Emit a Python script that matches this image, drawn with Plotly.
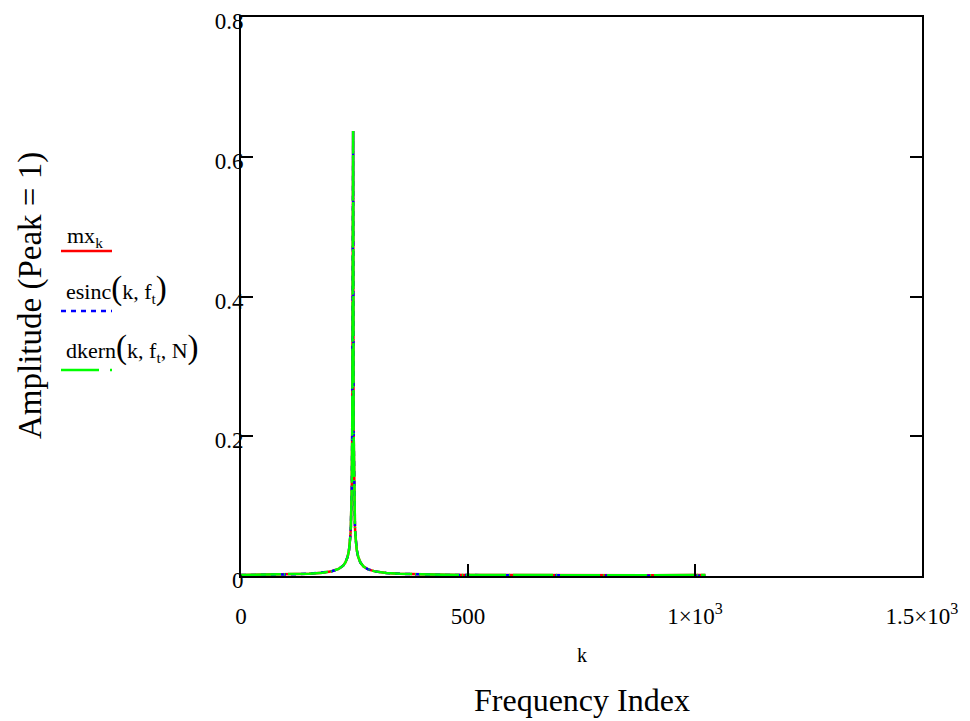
import plotly.graph_objects as go

# Frequency index samples (k) and amplitudes
k_vals = [0, 50, 100, 150, 180, 200, 215, 225, 230, 235, 238, 240, 241, 242, 243, 244, 245,
          246, 247, 248, 249, 250, 251, 252, 253, 255, 258, 263, 270, 280, 295, 320, 350,
          400, 450, 500, 600, 700, 800, 900, 1000, 1023]

mx_vals = [0.0014, 0.0017, 0.0022, 0.0033, 0.0048, 0.0069, 0.0101, 0.0148, 0.0193, 0.0277,
           0.0374, 0.049, 0.058, 0.071, 0.091, 0.127, 0.212, 0.637, 0.637, 0.212, 0.127,
           0.091, 0.071, 0.058, 0.049, 0.0374, 0.0277, 0.0193, 0.0135, 0.0095, 0.0066,
           0.0043, 0.0031, 0.0021, 0.0017, 0.0014, 0.0011, 0.0010, 0.0010, 0.0011, 0.0013,
           0.0014]

esinc_vals = [0.0013, 0.0016, 0.0022, 0.0033, 0.0048, 0.0068, 0.0101, 0.0148, 0.0193, 0.0277,
              0.0374, 0.049, 0.058, 0.071, 0.091, 0.127, 0.212, 0.637, 0.637, 0.212, 0.127,
              0.091, 0.071, 0.058, 0.049, 0.0374, 0.0277, 0.0193, 0.0135, 0.0095, 0.0066,
              0.0043, 0.0031, 0.0021, 0.0016, 0.0013, 0.0009, 0.0007, 0.0006, 0.0005, 0.0004,
              0.0004]

dkern_vals = [0.0014, 0.0017, 0.0022, 0.0033, 0.0048, 0.0069, 0.0101, 0.0148, 0.0193, 0.0277,
              0.0374, 0.049, 0.058, 0.071, 0.091, 0.127, 0.212, 0.637, 0.637, 0.212, 0.127,
              0.091, 0.071, 0.058, 0.049, 0.0374, 0.0277, 0.0193, 0.0135, 0.0095, 0.0066,
              0.0043, 0.0031, 0.0021, 0.0017, 0.0014, 0.0011, 0.0010, 0.0010, 0.0011, 0.0013,
              0.0014]

x_tickvals = [0, 500, 1000, 1500]
x_ticktext = ["0", "500", "1×10<sup>3</sup>", "1.5×10<sup>3</sup>"]
y_tickvals = [0, 0.2, 0.4, 0.6, 0.8]
y_ticktext = ["0", "0.2", "0.4", "0.6", "0.8"]

FONT = "Liberation Serif, Times New Roman, serif"
RED = "#ff0000"
BLUE = "#0000ff"
GREEN = "#00ff00"

fig = go.Figure()
fig.add_trace(go.Scatter(x=k_vals, y=mx_vals, mode="lines",
                         line=dict(color=RED, width=2.5), name="mx"))
fig.add_trace(go.Scatter(x=k_vals, y=esinc_vals, mode="lines",
                         line=dict(color=BLUE, width=2.5, dash="5px,5px"), name="esinc"))
fig.add_trace(go.Scatter(x=k_vals, y=dkern_vals, mode="lines",
                         line=dict(color=GREEN, width=2.5, dash="40px,3px,1px,3px"), name="dkern"))

fig.update_layout(
    width=962, height=713,
    margin=dict(l=233, r=48, t=9, b=145),
    paper_bgcolor="white", plot_bgcolor="white",
    showlegend=False,
    font=dict(family=FONT, color="black", size=22),
    xaxis=dict(range=[0, 1500], tickvals=x_tickvals, ticktext=x_ticktext,
               ticks="inside", ticklen=12, tickwidth=2, tickcolor="black",
               showline=True, linewidth=2, linecolor="black", mirror=True,
               showgrid=False, zeroline=False, ticklabelstandoff=18, automargin=False,
               ticklabeloverflow="allow",
               tickfont=dict(family=FONT, size=23, color="black")),
    yaxis=dict(range=[0, 0.8], tickvals=y_tickvals, ticktext=y_ticktext,
               ticks="inside", ticklen=12, tickwidth=2, tickcolor="black",
               showline=True, linewidth=2, linecolor="black", mirror="ticks",
               showgrid=False, zeroline=False, ticklabelstandoff=-9, automargin=False,
               ticklabeloverflow="allow", ticklabelshift=4,
               tickfont=dict(family=FONT, size=23, color="black")),
)

def px_x(px):
    return (px - 241) / 681.0

def px_y(py):
    return (576 - py) / 559.0

ann = []
ann.append(dict(text="Amplitude (Peak = 1)", x=px_x(30), y=px_y(295), xref="paper", yref="paper",
                textangle=-90, showarrow=False, xanchor="center", yanchor="middle",
                font=dict(family=FONT, size=33, color="black")))
ann.append(dict(text="k", x=0.5, y=px_y(655), xref="paper", yref="paper",
                showarrow=False, xanchor="center", yanchor="middle",
                font=dict(family=FONT, size=20, color="black")))
ann.append(dict(text="Frequency Index", x=0.5, y=px_y(700), xref="paper", yref="paper",
                showarrow=False, xanchor="center", yanchor="middle",
                font=dict(family=FONT, size=32, color="black")))
BIG = "<span style='font-size:33px'>(</span>"
BIGC = "<span style='font-size:33px'>)</span>"
ann.append(dict(text="mx<sub>k</sub>", x=px_x(65), y=px_y(237), xref="paper", yref="paper",
                showarrow=False, xanchor="left", yanchor="middle",
                font=dict(family=FONT, size=22, color="black")))
ann.append(dict(text="esinc" + BIG + "k, f<sub>t</sub>" + BIGC, x=px_x(64), y=px_y(288),
                xref="paper", yref="paper", showarrow=False, xanchor="left", yanchor="middle",
                font=dict(family=FONT, size=22, color="black")))
ann.append(dict(text="dkern" + BIG + "k, f<sub>t</sub>, N" + BIGC, x=px_x(64), y=px_y(347),
                xref="paper", yref="paper", showarrow=False, xanchor="left", yanchor="middle",
                font=dict(family=FONT, size=22, color="black")))
fig.update_layout(annotations=ann)

shapes = []
shapes.append(dict(type="line", xref="paper", yref="paper", x0=px_x(61), x1=px_x(112),
                   y0=px_y(251), y1=px_y(251), line=dict(color=RED, width=2.5)))
shapes.append(dict(type="line", xref="paper", yref="paper", x0=px_x(61), x1=px_x(112),
                   y0=px_y(311), y1=px_y(311), line=dict(color=BLUE, width=2.5, dash="5px,5px")))
shapes.append(dict(type="line", xref="paper", yref="paper", x0=px_x(61), x1=px_x(113),
                   y0=px_y(370), y1=px_y(370), line=dict(color=GREEN, width=2.5, dash="38px,11px,2px,11px")))
fig.update_layout(shapes=shapes)

fig.write_html("out.html")
